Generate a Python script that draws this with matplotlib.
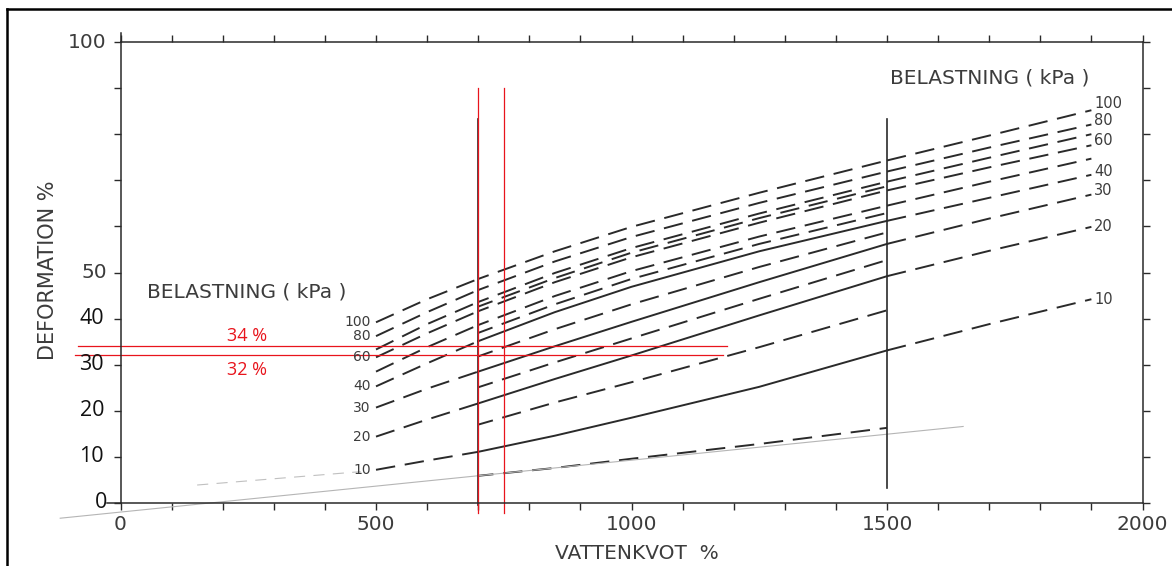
import matplotlib
matplotlib.use('Agg')
import matplotlib.pyplot as plt
from matplotlib.lines import Line2D

plt.rcParams['lines.scale_dashes'] = False

# ---------------- data ----------------
water_x = [500, 600, 700, 850, 1000, 1250, 1500, 1700, 1900]   # VATTENKVOT %
def_10 = [7.2, 9.2, 11.1, 14.6, 18.5, 25.2, 33.1, 38.8, 44.2]
def_20 = [14.4, 18.1, 21.6, 26.9, 32.0, 40.7, 49.2, 54.7, 59.9]
def_30 = [20.7, 24.8, 28.5, 34.0, 39.3, 47.9, 56.2, 61.7, 66.9]
def_40 = [25.3, 30.3, 35.1, 41.4, 46.9, 54.6, 61.2, 66.2, 71.2]
def_50 = [28.5, 33.8, 38.6, 44.9, 50.3, 57.8, 64.5, 69.7, 74.7]
def_60 = [31.6, 36.8, 41.6, 47.9, 53.3, 60.8, 67.8, 72.8, 77.6]
def_70 = [33.3, 38.8, 43.6, 49.9, 55.3, 62.8, 69.7, 74.9, 80.0]
def_80 = [36.2, 41.4, 46.2, 52.4, 57.7, 65.1, 71.9, 77.1, 82.1]
def_100 = [39.2, 44.2, 48.6, 54.6, 59.9, 67.3, 74.3, 79.7, 85.2]
main_curves = [def_10, def_20, def_30, def_40, def_50, def_60, def_70, def_80, def_100]

mid_x = [700, 850, 1000, 1250, 1500]
mid_1 = [5.9, 7.6, 9.6, 12.8, 16.3]
mid_2 = [17.0, 21.8, 26.2, 33.8, 41.8]
mid_3 = [25.1, 30.5, 35.7, 44.3, 52.7]
mid_4 = [31.8, 37.7, 43.1, 51.2, 58.7]
mid_5 = [36.9, 43.1, 48.6, 56.2, 62.9]
mid_6 = [42.6, 48.8, 54.3, 61.8, 68.7]
mid_curves = [mid_1, mid_2, mid_3, mid_4, mid_5, mid_6]

label_loads = ['100', '80', '60', '40', '30', '20', '10']
label_curves = [def_100, def_80, def_60, def_40, def_30, def_20, def_10]
right_offsets = [1.4, 0.8, 1.0, 0.7, 0.9, 0.0, 0.0]

faint_x = [-118, 1649]
faint_y = [-3.3, 16.6]
faint2_x = [150, 470]
faint2_y = [3.9, 6.8]

xticks_major = [0, 500, 1000, 1500, 2000]
ytick_orig = [100, 50]
ytick_overlay = [40, 30, 20, 10, 0]
marker_lines_x = [700, 750]
marker_lines_y = [34, 32]
marker_texts = ['34 %', '32 %']

# ---------------- figure ----------------
W, H = 1172, 566
fig = plt.figure(figsize=(W / 100, H / 100), dpi=100)
ax = fig.add_axes([120.5 / W, 63 / H, 1022 / W, 461 / H])
ax.set_xlim(0, 2000)
ax.set_ylim(0, 100)

ink = '#2a2a2a'
txt = '#3c3c3c'
for s in ax.spines.values():
    s.set_linewidth(1.1)
    s.set_color(ink)
ax.set_xticks(range(0, 2001, 100))
ax.set_yticks(range(0, 101, 10))
ax.tick_params(axis='both', which='both', direction='out', length=5, width=1.0,
               color=ink, labelbottom=False, labelleft=False,
               top=True, right=True)
ax.set_xticklabels([])
ax.set_yticklabels([])

# extensions of axes (as in the scan)
ax.plot([0, 0], [100, 102], color=ink, lw=1.1, clip_on=False)
ax.plot([-27, 0], [0, 0], color=ink, lw=1.1, clip_on=False)

dash = (0, (14, 7))
lw = 1.4
solid_middle = [def_10, def_20, def_30, def_40]
# main family: dashed / solid (lower loads) or dashed / dashed
for c in main_curves:
    mid_style = '-' if any(c is s for s in solid_middle) else (6, (14, 7))
    ax.plot(water_x[0:3], c[0:3], color=ink, lw=lw, ls=dash, clip_on=False)
    ax.plot(water_x[2:7], c[2:7], color=ink, lw=lw, ls=mid_style, clip_on=False)
    ax.plot(water_x[6:9], c[6:9], color=ink, lw=lw, ls=dash, clip_on=False)
for c in mid_curves:
    ax.plot(mid_x, c, color=ink, lw=lw, ls=(3, (14, 7)))

# faint pencil-like lines
ax.plot(faint_x, faint_y, color='#b5b5b5', lw=0.8, clip_on=False)
ax.plot(faint2_x, faint2_y, color='#c0c0c0', lw=0.8, ls=(0, (8, 6)), clip_on=False)

# vertical reference lines of the original chart
ax.plot([700, 700], [-0.5, 83.4], color=ink, lw=1.2, clip_on=False)
ax.plot([1500, 1500], [3.3, 83.4], color=ink, lw=1.2)

# curve labels
for lab, c in zip(label_loads, label_curves):
    ax.text(490, c[0], lab, ha='right', va='center', fontsize=10, color=txt,
            family='DejaVu Sans')
for lab, c, off in zip(label_loads, label_curves, right_offsets):
    ax.text(1905, c[-1] + off, lab, ha='left', va='center', fontsize=10.5, color=txt,
            family='DejaVu Sans')

ax.text(52, 45.8, 'BELASTNING ( kPa )', ha='left', va='center', fontsize=14.5,
        color=txt, family='DejaVu Sans')
ax.text(1506, 92.2, 'BELASTNING ( kPa )', ha='left', va='center', fontsize=14.5,
        color=txt, family='DejaVu Sans')

# tick labels of the original chart
for v in xticks_major:
    ax.text(v, -4.6, str(v), ha='center', va='center', fontsize=14.5, color=txt,
            family='DejaVu Sans', clip_on=False)
for v in ytick_orig:
    ax.text(-27, v, str(v), ha='right', va='center', fontsize=14.5, color=txt,
            family='DejaVu Sans', clip_on=False)
# overlaid labels
for v in ytick_overlay:
    ax.text(-32 if v else -26, v, str(v), ha='right', va='center', fontsize=15.5,
            color='#111111', family='Open Sans', clip_on=False)

ax.text(1011, -10.9, 'VATTENKVOT  %', ha='center', va='center', fontsize=14.5,
        color=txt, family='DejaVu Sans', clip_on=False)
ax.text(-142, 50.5, 'DEFORMATION %', ha='center', va='center', rotation=90,
        fontsize=15, color=txt, family='DejaVu Sans', clip_on=False)

# red annotation
red = '#e8141c'
for xv in marker_lines_x:
    ax.plot([xv, xv], [-2.2, 90], color=red, lw=0.9, clip_on=False)
ax.plot([-83, 1187], [marker_lines_y[0]] * 2, color=red, lw=0.9, clip_on=False)
ax.plot([-89, 1179], [marker_lines_y[1]] * 2, color=red, lw=0.9, clip_on=False)
ax.text(248, 36.3, marker_texts[0], ha='center', va='center', fontsize=13,
        color=red, family='Open Sans')
ax.text(248, 28.8, marker_texts[1], ha='center', va='center', fontsize=13,
        color=red, family='Open Sans')

# outer frame of the screenshot
fig.add_artist(Line2D([7 / W, 7 / W], [0, 1 - 9 / H], transform=fig.transFigure,
                      color='black', lw=1.8))
fig.add_artist(Line2D([7 / W, 1], [1 - 9 / H, 1 - 9 / H], transform=fig.transFigure,
                      color='black', lw=1.8))

fig.savefig('out.png', dpi=100, facecolor='white')
